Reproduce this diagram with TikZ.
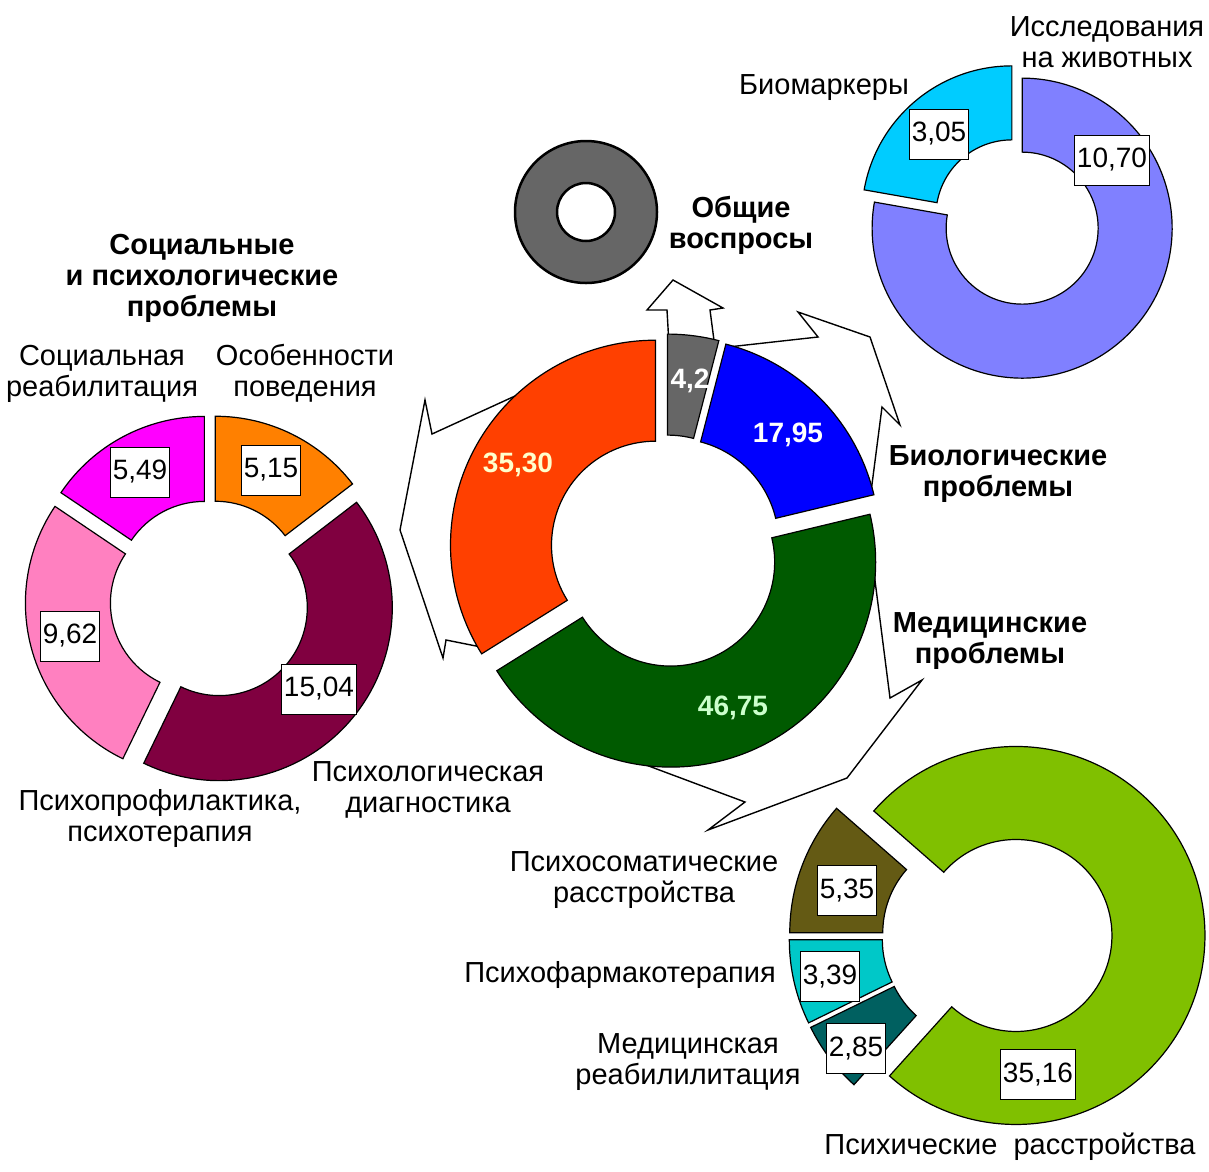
\documentclass[tikz,border=0pt]{standalone}
\usepackage{fontspec}
\setmainfont{Liberation Sans}
\usepackage{xcolor}
\definecolor{gen}{RGB}{102,102,102}
\definecolor{bio}{RGB}{0,0,255}
\definecolor{med}{RGB}{0,90,0}
\definecolor{soc}{RGB}{255,64,0}
\definecolor{beh}{RGB}{255,128,0}
\definecolor{diag}{RGB}{128,0,64}
\definecolor{prof}{RGB}{255,128,192}
\definecolor{reab}{RGB}{255,0,255}
\definecolor{bmark}{RGB}{0,204,255}
\definecolor{anim}{RGB}{128,128,255}
\definecolor{psych}{RGB}{128,192,0}
\definecolor{psom}{RGB}{100,90,20}
\definecolor{pharm}{RGB}{0,200,200}
\definecolor{mreab}{RGB}{0,96,96}
\definecolor{paley}{RGB}{255,255,204}
\definecolor{paleg}{RGB}{204,255,204}
% donut slice: cx, cy, from, to (degrees), R, r, explode, colour
\newcommand{\donutslice}[8]{%
  \filldraw[fill=#8,draw=black,line width=1.2pt,shift={(#1,#2)},shift={({-(#3+#4)/2}:#7)}]
    ({-#3}:#5) arc[start angle={-#3},end angle={-#4},radius=#5]
    -- ({-#4}:#6) arc[start angle={-#4},end angle={-#3},radius=#6] -- cycle;}

\begin{document}
\begin{tikzpicture}[x=1pt,y=-1pt,
    numbox/.style={draw=black,fill=white,line width=1pt,inner xsep=2.5pt,inner ysep=0pt,minimum height=50pt,font=\fontsize{28}{30}\selectfont},
    lbl/.style={align=center,font=\fontsize{29}{31}\selectfont},
    blbl/.style={align=center,font=\fontsize{29}{31}\selectfont\bfseries},
    pct/.style={font=\fontsize{28}{30}\selectfont\bfseries},
    blockarrow/.style={fill=white,draw=black,line width=1.4pt,line join=miter}]
\useasboundingbox (0,0) rectangle (1209,1171);

% block arrows (behind the central donut)
\draw[blockarrow] (669,345) -- (667,310) -- (647,310) -- (673,280) -- (723,308) -- (710,310) -- (715,348) -- (690,400) -- cycle;
\draw[blockarrow] (550,380) -- (432,434) -- (425,400) -- (400,530) -- (443,658) -- (446,640) -- (486,648) -- (520,560) -- (560,440) -- cycle;
\draw[blockarrow] (728,347) -- (818,337) -- (798,312) -- (870,337) -- (900,425) -- (882,407) -- (871,492) -- (790,430) -- cycle;
\draw[blockarrow] (873,565) -- (890,698) -- (922,680) -- (847,778) -- (708,830) -- (745,802) -- (638,762) -- (700,700) -- (800,640) -- cycle;

% central donut
\donutslice{666}{551}{75.5}{90}{205}{104}{12}{gen}
\donutslice{666}{551}{13.5}{75.5}{205}{104}{12}{bio}
\donutslice{666}{551}{-148}{13.5}{205}{104}{12}{med}
\donutslice{666}{551}{90}{212}{205}{104}{12}{soc}
\node[pct,text=white] (n42) at (690,381) {4,2};
\node[pct,text=white] (n1795) at (788,435) {17,95};
\node[pct,text=paley] (n3530) at (518,465) {35,30};
\node[pct,text=paleg] (n4675) at (733,708) {46,75};

% general questions
\filldraw[fill=gen,draw=black,line width=2.5pt,even odd rule] (586,212) circle[radius=71] circle[radius=29];
\node[blbl] (gen) at (741,225) {Общие\\воспросы};

% social and psychological problems
\donutslice{210}{600}{37.5}{90}{173}{88}{12}{beh}
\donutslice{210}{600}{-115.9}{37.5}{173}{88}{12}{diag}
\donutslice{210}{600}{146}{244.1}{173}{88}{12}{prof}
\donutslice{210}{600}{90}{146}{173}{88}{12}{reab}
\node[numbox] (v549) at (140,472) {5,49};
\node[numbox] (v515) at (271,470) {5,15};
\node[numbox] (v962) at (70,636) {9,62};
\node[numbox] (v1504) at (319,689) {15,04};
\node[blbl] (soc) at (202,278) {Социальные\\и психологические\\проблемы};
\node[lbl] (reab) at (102,374) {Социальная\\реабилитация};
\node[lbl] (beh) at (305,373) {Особенности\\поведения};
\node[lbl] (prof) at (160,818) {Психопрофилактика,\\психотерапия};
\node[lbl] (diag) at (428,790) {Психологическая\\диагностика};

% biological problems
\donutslice{1017}{222}{90}{170}{150}{76}{8}{bmark}
\donutslice{1017}{222}{-190}{90}{150}{76}{8}{anim}
\node[numbox] (v305) at (939,134) {3,05};
\node[numbox] (v1070) at (1112,160) {10,70};
\node[lbl] (bmark) at (824,88) {Биомаркеры};
\node[lbl] (anim) at (1107,42) {Исследования\\на животных};
\node[blbl] (bio) at (998,474) {Биологические\\проблемы};

% medical problems
\donutslice{990}{937}{138.8}{180}{189}{96}{12}{psom}
\donutslice{990}{937}{180}{206.1}{189}{96}{12}{pharm}
\donutslice{990}{937}{206.1}{228}{189}{96}{12}{mreab}
\donutslice{990}{937}{-132}{138.8}{189}{96}{26}{psych}
\node[numbox] (v535) at (847,890) {5,35};
\node[numbox] (v339) at (830,976) {3,39};
\node[numbox] (v285) at (856,1048) {2,85};
\node[numbox] (v3516) at (1038,1074) {35,16};
\node[blbl] (med) at (990,641) {Медицинские\\проблемы};
\node[lbl] (psom) at (644,880) {Психосоматические\\расстройства};
\node[lbl] (pharm) at (620,975) {Психофармакотерапия};
\node[lbl] (mreab) at (688,1062) {Медицинская\\реабилилитация};
\node[lbl] (psych) at (1010,1147) {Психические~~расстройства};
\end{tikzpicture}
\end{document}
